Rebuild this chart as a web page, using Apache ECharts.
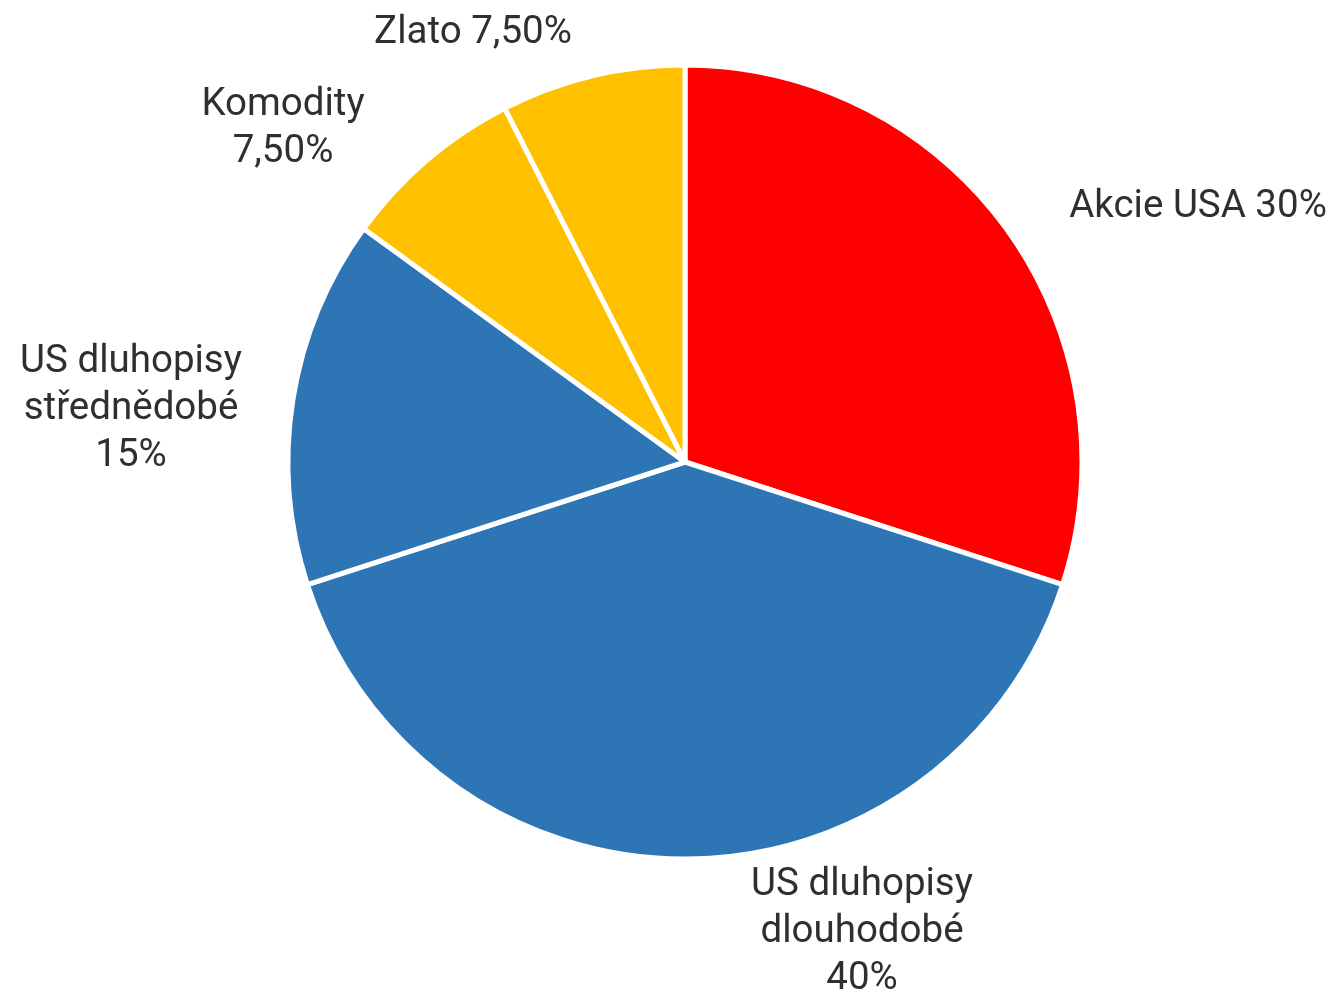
<!DOCTYPE html>
<html>
<head>
<meta charset="utf-8">
<script src="https://cdn.jsdelivr.net/npm/echarts@6/dist/echarts.min.js"></script>
<style>html,body{margin:0;padding:0;background:#fff}#c{width:1335px;height:994px}</style>
</head>
<body>
<div id="c"></div>
<script>
const categories = ['Akcie USA', 'US dluhopisy dlouhodobé', 'US dluhopisy střednědobé', 'Komodity', 'Zlato'];
const values = [30, 40, 15, 7.5, 7.5];
const labelTexts = ['Akcie USA 30%', 'US dluhopisy\ndlouhodobé\n40%', 'US dluhopisy\nstřednědobé\n15%', 'Komodity\n7,50%', 'Zlato 7,50%'];
const colors = ['#FF0000', '#2E75B6', '#2E75B6', '#FFC000', '#FFC000'];

const labelCenters = [[1198, 207], [862, 932], [131, 409], [283, 129], [473, 33]];

const chart = echarts.init(document.getElementById('c'), null, {renderer: 'canvas'});
chart.setOption({
  animation: false,
  backgroundColor: '#fff',
  series: [{
    type: 'pie',
    center: [685, 462],
    radius: 397,
    startAngle: 90,
    clockwise: true,
    avoidLabelOverlap: false,
    data: categories.map((c, i) => ({name: c, value: values[i], itemStyle: {color: colors[i]}})),
    itemStyle: {borderColor: '#ffffff', borderWidth: 5},
    label: {
      show: true,
      position: 'outside',
      formatter: p => labelTexts[p.dataIndex],
      fontFamily: 'Roboto',
      fontSize: 38.5,
      lineHeight: 47,
      color: '#2f2f2f',
      align: 'center'
    },
    labelLine: {show: false},
    labelLayout: p => ({
      x: labelCenters[p.dataIndex][0],
      y: labelCenters[p.dataIndex][1],
      align: 'center',
      verticalAlign: 'middle'
    }),
    emphasis: {disabled: true}
  }]
});
</script>
</body>
</html>
